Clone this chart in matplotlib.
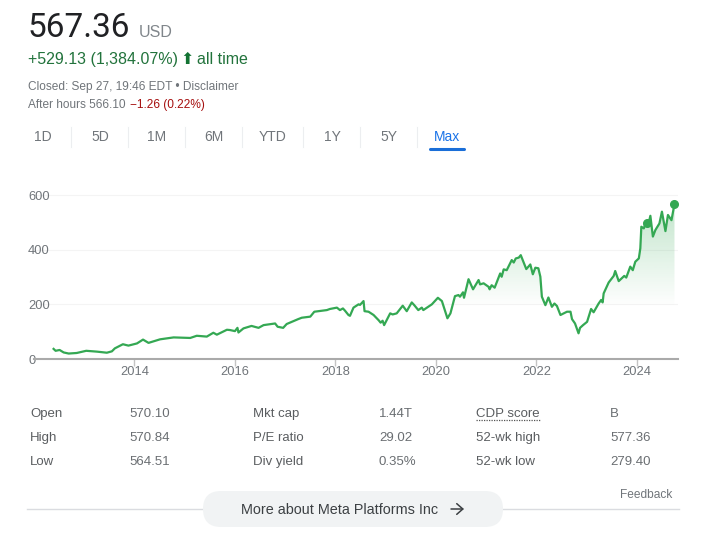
import numpy as np
import matplotlib
matplotlib.use("Agg")
import matplotlib.pyplot as plt
from matplotlib.patches import FancyBboxPatch, Polygon

years = [
 2012.39,2012.43,2012.51,2012.59,2012.69,2012.85,2013.04,2013.25,2013.45,2013.55,
 2013.61,2013.77,2013.88,2014.05,2014.17,2014.28,2014.51,2014.78,2015.11,2015.24,
 2015.44,2015.57,2015.64,2015.84,
 2015.90,2016.00,2016.05,2016.07,2016.17,2016.33,2016.47,2016.57,2016.80,2016.85,
 2016.96,2017.03,2017.26,2017.33,2017.50,2017.58,2017.83,2017.89,2018.03,
 2018.09,2018.15,2018.19,2018.26,2018.29,2018.36,2018.46,2018.49,2018.56,2018.58,
 2018.66,2018.76,2018.86,2018.90,2018.94,2018.97,2019.09,2019.14,2019.22,2019.34,
 2019.42,2019.52,2019.57,2019.65,2019.72,2019.75,2019.92,2020.04,2020.12,2020.23,
 2020.29,2020.38,2020.45,2020.48,2020.54,2020.56,2020.65,2020.74,2020.85,2020.88,
 2020.95,2021.05,2021.07,2021.11,2021.17,2021.28,2021.31,2021.35,2021.41,2021.51,
 2021.55,2021.59,2021.65,2021.69,2021.80,2021.88,2021.93,2021.98,2022.04,2022.08,
 2022.11,2022.18,2022.24,2022.31,2022.36,2022.41,2022.48,2022.61,
 2022.68,2022.71,2022.77,2022.84,2022.87,2022.93,2023.01,2023.09,2023.14,2023.24,
 2023.29,2023.32,2023.34,2023.44,2023.54,2023.57,2023.64,2023.75,2023.79,2023.87,
 2023.92,2023.97,2024.04,2024.07,2024.09,2024.14,2024.19,2024.23,2024.27,2024.32,
 2024.37,2024.45,2024.50,2024.57,2024.62,2024.69,2024.75]
closes = [
 37,30,33,24,20,22,30,27,23,28,
 39,54,49,57,71,59,72,79,77,85,
 82,96,89,107,
 106,102,114,97,112,121,114,124,130,118,
 114,128,146,151,155,173,179,183,188,
 179,185,177,161,158,188,200,198,212,175,
 173,161,142,133,140,124,167,163,167,195,
 175,207,197,179,188,179,200,224,212,149,
 167,230,234,228,244,224,292,255,289,273,
 277,264,255,270,261,313,301,328,325,362,
 353,368,371,380,329,346,310,334,332,301,
 228,197,225,191,203,194,161,173,
 173,146,130,94,114,124,136,183,171,203,
 216,207,240,280,304,322,285,304,298,338,
 325,356,368,405,484,478,505,493,524,448,
 472,496,539,468,527,508,567]
marker_years = [2024.20, 2024.75]
marker_values = [497, 567]
y_ticks = [0,200,400,600]
x_ticks = [2014,2016,2018,2020,2022,2024]
tabs = ["1D","5D","1M","6M","YTD","1Y","5Y","Max"]
tab_x = [43,100,157,214,273,332,389,447]
stat_labels = [["Open","High","Low"],["Mkt cap","P/E ratio","Div yield"],["CDP score","52-wk high","52-wk low"]]
stat_values = [["570.10","570.84","564.51"],["1.44T","29.02","0.35%"],["B","577.36","279.40"]]

plt.rcParams['font.family'] = ['Liberation Sans','DejaVu Sans']
W, H = 725, 552
fig = plt.figure(figsize=(W/100, H/100), dpi=100, facecolor='white')

ov = fig.add_axes([0,0,1,1], zorder=3)
ov.set_xlim(0,W); ov.set_ylim(H,0); ov.axis('off'); ov.patch.set_alpha(0)

left, right, top, bottom = 34, 678, 180, 359
ax = fig.add_axes([left/W, 1-bottom/H, (right-left)/W, (bottom-top)/H], zorder=2)
ax.patch.set_alpha(0)
for s in ['top','left','right']:
    ax.spines[s].set_visible(False)
ax.spines['bottom'].set_color('#aaaaaa'); ax.spines['bottom'].set_linewidth(1.5)
ax.set_xticks(x_ticks); ax.set_xticklabels([str(v) for v in x_ticks])
ax.tick_params(axis='x', length=5, width=1, color='#c4c4c4', labelcolor='#70757a', labelsize=9.3, pad=0)
ax.set_yticks(y_ticks); ax.set_yticklabels([str(v) for v in y_ticks])
ax.tick_params(axis='y', length=0, labelcolor='#70757a', labelsize=9.3, pad=4.3)
for lab in ax.get_yticklabels():
    lab.set_ha('left')
ax.grid(axis='x', visible=False)
ax.grid(axis='y', color='#f4f4f4', lw=0.8)
ax.set_axisbelow(True)
ax.yaxis.get_gridlines()[0].set_visible(False)

grad = np.zeros((256,1,4))
grad[...,0] = 0x34/255; grad[...,1] = 0xa8/255; grad[...,2] = 0x53/255
grad[...,3] = np.linspace(0.30, 0, 256)[:,None]
im = ax.imshow(grad, extent=[2012,2024.75,190,570], origin='upper', aspect='auto', zorder=1)
clip = Polygon(list(zip(years,closes))+[(years[-1],0),(years[0],0)], closed=True, transform=ax.transData, fc='none', ec='none')
ax.add_patch(clip)
im.set_clip_path(clip)
ax.set_xlim(2012.0, 2024.82); ax.set_ylim(0, 655)

ax.plot(years, closes, color='#34a853', lw=1.6, solid_joinstyle='round', zorder=3)
ax.plot(marker_years, marker_values, 'o', color='#34a853', ms=5.5, zorder=4, clip_on=False)

grey = '#70757a'; dark = '#202124'; green = '#137333'; red = '#a50e0e'
ov.text(28, 37, "567.36", fontsize=24, color=dark, family='Roboto', va='baseline')
ov.text(139, 37, "USD", fontsize=11.5, color='#80868b', va='baseline')
ov.text(28, 64, "+529.13 (1,384.07%)", fontsize=11.5, color='#22733c', va='baseline')
ov.text(180.5, 64, "\u2b06", fontsize=11.5, color=green, va='baseline', family='DejaVu Sans')
ov.text(197.5, 64, "all time", fontsize=11.5, color='#22733c', va='baseline')
ov.text(28, 90, "Closed: Sep 27, 19:46 EDT \u2022 Disclaimer", fontsize=8.6, color=grey, va='baseline')
ov.text(28, 108, "After hours 566.10", fontsize=8.6, color=grey, va='baseline')
ov.text(130, 108, "\u22121.26 (0.22%)", fontsize=8.6, color=red, va='baseline')

for name, x in zip(tabs, tab_x):
    ov.text(x, 137, name, fontsize=10, color='#1a73e8' if name == 'Max' else grey, ha='center', va='center')
for x in [71.5,128.5,185.5,242.5,303.5,360.5,417.5]:
    ov.plot([x,x],[127,147], color='#eceef0', lw=0.8)
ov.plot([430,464],[148.5,148.5], color='#1a6ed8', lw=2.2, solid_capstyle='round')

row_y = [417,441,465]
for col, lx, vx in zip(range(3), [30,253,476], [129,379,610]):
    for r, y in enumerate(row_y):
        ov.text(lx, y, stat_labels[col][r], fontsize=9.5, color='#5a5d60', va='baseline')
        ov.text(vx, y, stat_values[col][r], fontsize=9.5, color='#6a6e72', va='baseline')
ov.plot([476,540],[420,420], color='#555555', lw=0.9, ls=(0,(1,1)))
ov.text(672, 497.5, "Feedback", fontsize=8.6, color=grey, ha='right', va='baseline')
ov.plot([27,679],[509,509], color='#dadce0', lw=1)
ov.add_patch(FancyBboxPatch((203,491), 300, 36, boxstyle="round,pad=0,rounding_size=18", fc='#f1f3f4', ec='none', zorder=3))
ov.text(339.5, 509.5, "More about Meta Platforms Inc", fontsize=10.4, color='#3c4043', ha='center', va='center', zorder=4)
ov.annotate("", xy=(464,509), xytext=(451,509), zorder=4,
            arrowprops=dict(arrowstyle='->,head_length=0.4,head_width=0.35', color='#3c4043', lw=1.1,
                            mutation_scale=11, shrinkA=0, shrinkB=0))

fig.savefig("out.png", dpi=100, facecolor='white')
